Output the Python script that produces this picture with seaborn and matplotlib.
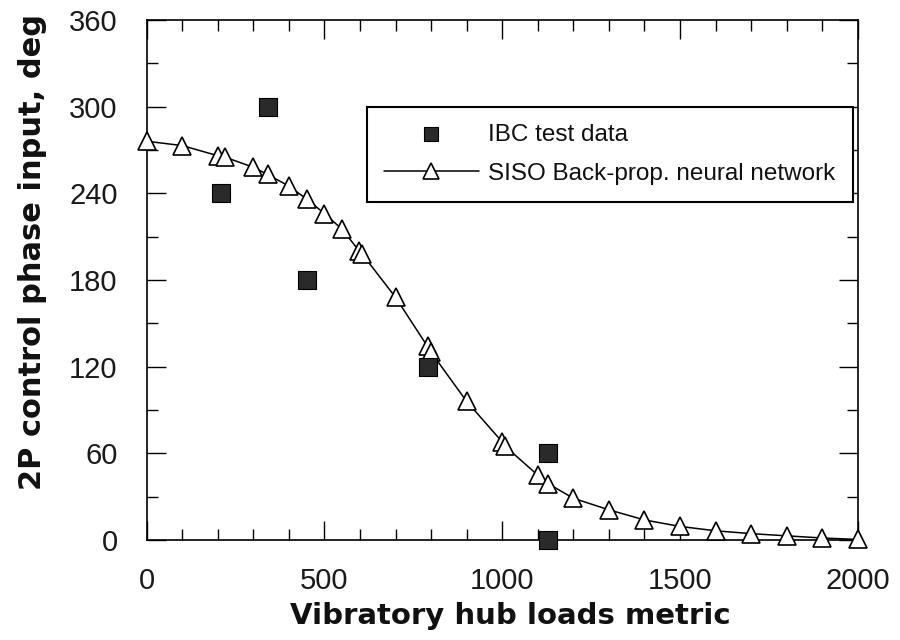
import matplotlib
matplotlib.use("Agg")
import matplotlib.pyplot as plt
import seaborn as sns
from matplotlib.ticker import MultipleLocator

# IBC test data (squares)
ibc_load = [210, 340, 450, 790, 1130, 1130]
ibc_phase = [240, 300, 180, 120, 60, 0]

# SISO Back-prop. neural network (triangles + line)
nn_load = [0, 100, 200, 220, 300, 340, 400, 450, 500, 550, 598, 606, 700,
           790, 800, 900, 1000, 1008, 1100, 1130, 1200, 1300, 1400, 1500,
           1600, 1700, 1800, 1900, 2000]
nn_phase = [276, 273, 266, 265, 258, 253, 245, 236, 226, 215, 200, 198, 168,
            134, 130, 96, 68, 65, 45, 39, 29, 21, 14, 9.5,
            6.5, 4.5, 3, 1.5, 0.5]

x_ticks = [0, 500, 1000, 1500, 2000]
y_ticks = [0, 60, 120, 180, 240, 300, 360]

sns.set_theme(style="ticks")
plt.rcParams['font.family'] = ['Liberation Sans', 'DejaVu Sans']

fig = plt.figure(figsize=(9, 6.4), dpi=100)
ax = fig.add_axes([0.163, 0.156, 0.790, 0.813])

sns.lineplot(x=nn_load, y=nn_phase, ax=ax, color='black', linewidth=1.1,
             marker='^', markersize=13, markerfacecolor='white',
             markeredgecolor='black', markeredgewidth=1.2, sort=False,
             label='SISO Back-prop. neural network', zorder=3, clip_on=False)
sns.scatterplot(x=ibc_load, y=ibc_phase, ax=ax, marker='s', s=150,
                color='#2a2a2a', edgecolor='black', linewidth=0.8,
                label='IBC test data', zorder=4, clip_on=False)

ax.set_xlim(0, 2000)
ax.set_ylim(0, 360)
ax.set_xticks(x_ticks)
ax.set_yticks(y_ticks)
ax.xaxis.set_minor_locator(MultipleLocator(100))
ax.yaxis.set_minor_locator(MultipleLocator(30))
ax.tick_params(which='both', direction='in', top=True, right=True,
               colors='black', width=1.0)
ax.tick_params(which='major', length=14, labelsize=21)
ax.tick_params(axis='x', which='major', pad=19)
ax.tick_params(axis='y', which='major', pad=21)
ax.tick_params(which='minor', length=8)
for t in ax.get_xticklabels() + ax.get_yticklabels():
    t.set_color('#1a1a1a')
for sp in ax.spines.values():
    sp.set_color('black')
    sp.set_linewidth(1.2)

ax.set_xlabel('Vibratory hub loads metric', fontsize=21, fontweight='bold',
              family='DejaVu Sans', color='#111111')
ax.set_ylabel('2P control phase input, deg', fontsize=22, fontweight='bold',
              family='DejaVu Sans', color='#111111')
ax.xaxis.set_label_coords(0.511, -0.118)
ax.yaxis.set_label_coords(-0.14, 0.554)

handles, labels = ax.get_legend_handles_labels()
order = [labels.index('IBC test data'),
         labels.index('SISO Back-prop. neural network')]
leg = ax.legend([handles[i] for i in order], [labels[i] for i in order],
                loc='upper right', bbox_to_anchor=(0.993, 0.833),
                fontsize=17.5, frameon=True, fancybox=False, edgecolor='black',
                framealpha=1, handlelength=3.9, borderpad=0.7,
                labelspacing=0.7, handletextpad=0.4, borderaxespad=0,
                markerscale=0.85)
leg.get_frame().set_linewidth(1.5)
for t in leg.get_texts():
    t.set_color('#111111')

fig.savefig('out.png', dpi=100, facecolor='white')
